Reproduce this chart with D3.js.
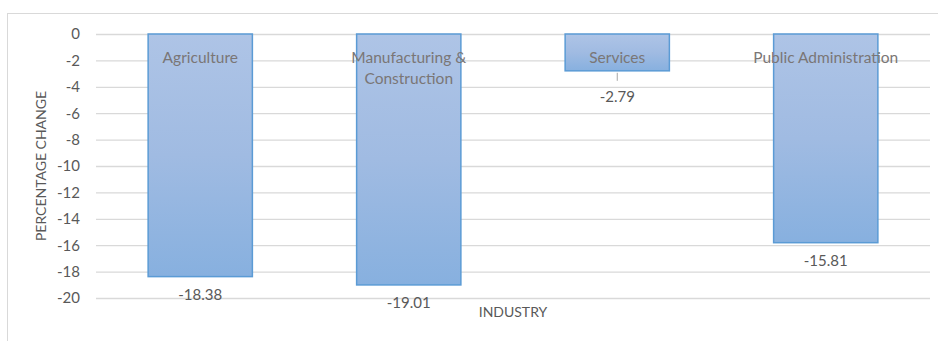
<!DOCTYPE html>
<html>
<head>
<meta charset="utf-8">
<script src="https://cdn.jsdelivr.net/npm/d3@7"></script>
<style>
  body { margin: 0; background: #fff; }
  text { font-family: Lato, "Open Sans", sans-serif; }
</style>
</head>
<body>
<script>
// data
const industries = ["Agriculture", "Manufacturing & Construction", "Services", "Public Administration"];
const labelLines = [["Agriculture"], ["Manufacturing &", "Construction"], ["Services"], ["Public Administration"]];
const changes = [-18.38, -19.01, -2.79, -15.81];
const yTicks = [0, -2, -4, -6, -8, -10, -12, -14, -16, -18, -20];

const width = 938;
const height = 341;
const margin = { top: 34, right: 8, bottom: 43, left: 96 };

const svg = d3.select("body").append("svg")
  .attr("width", width)
  .attr("height", height);

// gradient like the office preset fill
const grad = svg.append("defs").append("linearGradient")
  .attr("id", "barFill")
  .attr("x1", 0).attr("y1", 0).attr("x2", 0).attr("y2", 1);
grad.append("stop").attr("offset", "0%").attr("stop-color", "#aec4e6");
grad.append("stop").attr("offset", "50%").attr("stop-color", "#a0bbe2");
grad.append("stop").attr("offset", "100%").attr("stop-color", "#87b0df");

// chart frame
svg.append("rect")
  .attr("x", 7.5).attr("y", 13.5)
  .attr("width", width + 10).attr("height", height + 10)
  .attr("fill", "none")
  .attr("stroke", "#d9d9d9");

const x = d3.scaleBand()
  .domain(industries)
  .range([margin.left, width - margin.right])
  .paddingInner(0.5)
  .paddingOuter(0.25);

const y = d3.scaleLinear()
  .domain([0, -20])
  .range([margin.top, height - margin.bottom]);

// gridlines + tick labels
const yAxis = svg.append("g")
  .attr("transform", `translate(${margin.left},0)`)
  .call(d3.axisLeft(y).tickValues(yTicks)
    .tickSize(-(width - margin.right - margin.left))
    .tickPadding(16)
    .tickFormat(d3.format("d")));
yAxis.select(".domain").remove();
yAxis.selectAll(".tick line").attr("stroke", "#d9d9d9").attr("stroke-width", 1.3);
yAxis.selectAll(".tick text")
  .attr("fill", "#595959")
  .style("font-size", "15px")
  .text(d => d === 0 ? "0" : "-" + Math.abs(d));

// bars
svg.selectAll("rect.bar")
  .data(changes)
  .join("rect")
  .attr("class", "bar")
  .attr("x", (d, i) => x(industries[i]))
  .attr("y", y(0))
  .attr("width", x.bandwidth())
  .attr("height", d => y(d) - y(0))
  .attr("fill", "url(#barFill)")
  .attr("stroke", "#5b9bd5")
  .attr("stroke-width", 1.5);

// category labels inside the bars
svg.selectAll("text.cat")
  .data(labelLines)
  .join("text")
  .attr("class", "cat")
  .attr("text-anchor", "middle")
  .attr("fill", "#7a7676")
  .style("font-size", "15.5px")
  .each(function (lines, i) {
    d3.select(this).selectAll("tspan")
      .data(lines)
      .join("tspan")
      .attr("x", x(industries[i]) + x.bandwidth() / 2)
      .attr("y", (l, j) => y(-2) + 3 + j * 21)
      .text(l => l);
  });

// value labels below bar ends (Services gets a leader line)
const small = d => Math.abs(d) < 5;
svg.selectAll("line.leader")
  .data(changes.filter(small))
  .join("line")
  .attr("class", "leader")
  .attr("x1", d => x(industries[changes.indexOf(d)]) + x.bandwidth() / 2)
  .attr("x2", d => x(industries[changes.indexOf(d)]) + x.bandwidth() / 2)
  .attr("y1", d => y(d) + 2)
  .attr("y2", d => y(d) + 10)
  .attr("stroke", "#a6a6a6");

svg.selectAll("text.val")
  .data(changes)
  .join("text")
  .attr("class", "val")
  .attr("text-anchor", "middle")
  .attr("x", (d, i) => x(industries[i]) + x.bandwidth() / 2)
  .attr("y", d => y(d) + (small(d) ? 31 : 23))
  .attr("fill", "#595959")
  .style("font-size", "15px")
  .text(d => d.toFixed(2));

// axis titles
svg.append("text")
  .attr("transform", `translate(46,${(margin.top + height - margin.bottom) / 2}) rotate(-90)`)
  .attr("text-anchor", "middle")
  .attr("fill", "#595959")
  .style("font-size", "14px")
  .text("PERCENTAGE CHANGE");

svg.append("text")
  .attr("x", (margin.left + width - margin.right) / 2)
  .attr("y", 317)
  .attr("text-anchor", "middle")
  .attr("fill", "#595959")
  .style("font-size", "14px")
  .text("INDUSTRY");
</script>
</body>
</html>
